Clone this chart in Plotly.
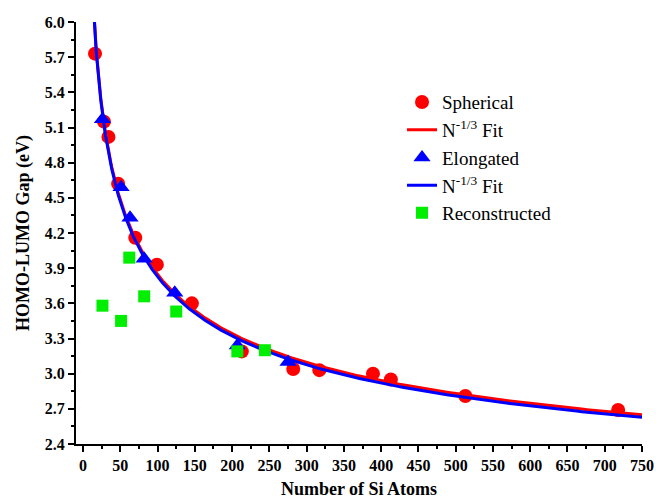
import numpy as np
import plotly.graph_objects as go

# Spherical clusters
sph_n = [16, 28, 34, 47, 70, 99, 146, 213, 282, 317, 389, 413, 513, 718]
sph_gap = [5.73, 5.15, 5.02, 4.62, 4.16, 3.93, 3.60, 3.19, 3.04, 3.03, 3.00, 2.95, 2.81, 2.69]

# Elongated clusters
elo_n = [26, 51, 63, 82, 123, 207, 275]
elo_gap = [5.17, 4.59, 4.33, 3.98, 3.69, 3.24, 3.10]

# Reconstructed clusters
rec_n = [26, 51, 62, 82, 125, 207, 244]
rec_gap = [3.58, 3.45, 3.99, 3.66, 3.53, 3.19, 3.20]

# N^-1/3 fit parameters (E = a + b * N^-1/3)
fit_sph = (1.40, 11.35)
fit_elo = (1.375, 11.38)

x_ticks = list(range(0, 751, 50))
y_ticks = [2.4, 2.7, 3.0, 3.3, 3.6, 3.9, 4.2, 4.5, 4.8, 5.1, 5.4, 5.7, 6.0]

n_fit = np.geomspace(12, 750, 400)
red_fit = fit_sph[0] + fit_sph[1] * n_fit ** (-1 / 3)
blue_fit = fit_elo[0] + fit_elo[1] * n_fit ** (-1 / 3)

FONT = "Liberation Serif"

fig = go.Figure()
fig.add_trace(go.Scatter(x=sph_n, y=sph_gap, mode="markers", name="Spherical",
                         marker=dict(symbol="circle", size=14, color="#ff0000"),
                         legendgroup="a"))
fig.add_trace(go.Scatter(x=n_fit, y=red_fit, mode="lines", name="N<sup>-1/3</sup> Fit",
                         line=dict(color="#ff0000", width=3), legendgroup="b"))
fig.add_trace(go.Scatter(x=elo_n, y=elo_gap, mode="markers", name="Elongated",
                         marker=dict(symbol="triangle-up", size=15, color="#0000ff"),
                         legendgroup="c"))
fig.add_trace(go.Scatter(x=n_fit, y=blue_fit, mode="lines", name="N<sup>-1/3</sup> Fit",
                         line=dict(color="#0000ff", width=3), legendgroup="d"))
fig.add_trace(go.Scatter(x=rec_n, y=rec_gap, mode="markers", name="Reconstructed",
                         marker=dict(symbol="square", size=12, color="#00ee00"),
                         legendgroup="e"))

fig.update_layout(
    width=656, height=499,
    margin=dict(l=76, r=14, t=22, b=55, autoexpand=False),
    paper_bgcolor="white", plot_bgcolor="white",
    font=dict(family=FONT, color="black"),
    showlegend=True,
    legend=dict(x=0.576, y=0.855, xanchor="left", yanchor="top",
                font=dict(family=FONT, size=19, color="black"),
                bgcolor="rgba(0,0,0,0)", tracegroupgap=4,
                traceorder="normal"),
    xaxis=dict(range=[-9.5, 750], tickvals=x_ticks, ticktext=[str(v) for v in x_ticks],
               automargin=False,
               showgrid=False, zeroline=False, showline=True, linecolor="black", linewidth=2,
               ticks="outside", ticklen=6, tickwidth=2, tickcolor="black",
               tickfont=dict(family=FONT, size=16, color="black", weight="bold"),
               minor=dict(dtick=25, tick0=0, ticks="outside", ticklen=3, tickwidth=1.5,
                          tickcolor="black", showgrid=False),
               title=dict(text="<b>Number of Si Atoms</b>", font=dict(family=FONT, size=18),
                          standoff=10)),
    yaxis=dict(range=[2.4, 6.0], tickvals=y_ticks, ticktext=[f"{v:.1f}" for v in y_ticks],
               automargin=False,
               showgrid=False, zeroline=False, showline=True, linecolor="black", linewidth=2,
               ticks="outside", ticklen=6, tickwidth=2, tickcolor="black",
               tickfont=dict(family=FONT, size=16, color="black", weight="bold"),
               minor=dict(dtick=0.15, tick0=2.4, ticks="outside", ticklen=3, tickwidth=1.5,
                          tickcolor="black", showgrid=False),
               title=dict(text="<b>HOMO-LUMO Gap (eV)</b>", font=dict(family=FONT, size=18),
                          standoff=10)),
)

fig.write_html("out.html")
